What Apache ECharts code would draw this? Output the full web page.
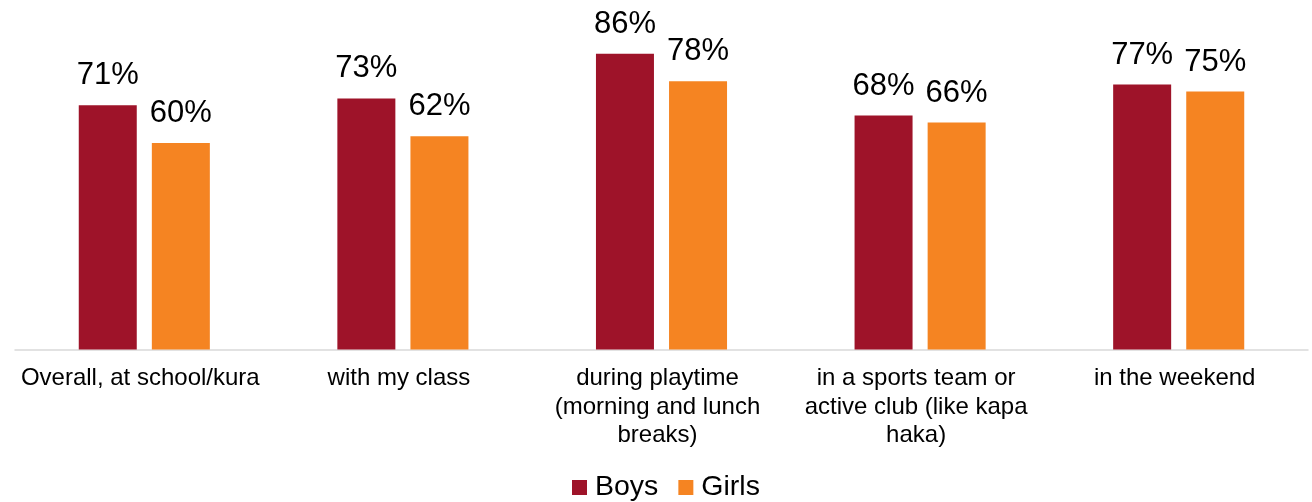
<!DOCTYPE html>
<html>
<head>
<meta charset="utf-8">
<script src="https://cdn.jsdelivr.net/npm/echarts@6/dist/echarts.min.js"></script>
<style>
  html, body { margin: 0; padding: 0; background: #ffffff; }
  #chart { width: 1312px; height: 502px; }
</style>
</head>
<body>
<div id="chart"></div>
<script>
// Share of children who are active, by setting
const categories = [
  'Overall, at school/kura',
  'with my class',
  'during playtime\n(morning and lunch\nbreaks)',
  'in a sports team or\nactive club (like kapa\nhaka)',
  'in the weekend'
];
const boys = [71, 73, 86, 68, 77];
const girls = [60, 62, 78, 66, 75];
const seriesNames = ['Boys', 'Girls'];

const FONT = '"Liberation Sans", Arial, sans-serif';

const valueLabel = {
  show: true,
  position: 'top',
  distance: 14,
  formatter: p => p.value + '%',
  fontFamily: FONT,
  fontSize: 31,
  color: '#000000'
};

const chart = echarts.init(document.getElementById('chart'), null, { renderer: 'canvas' });
chart.setOption({
  animation: false,
  backgroundColor: '#ffffff',
  grid: { left: 15, right: 4, top: 5.5, bottom: 152.5, containLabel: false },
  legend: {
    data: seriesNames,
    top: 468,
    left: 567,
    itemWidth: 15,
    itemHeight: 15,
    itemGap: 20,
    icon: 'rect',
    textStyle: { fontFamily: FONT, fontSize: 28.5, color: '#000000', padding: [0, 0, 0, 3] }
  },
  xAxis: {
    type: 'category',
    data: categories,
    axisLine: { show: true, lineStyle: { color: '#d9d9d9', width: 1.5 } },
    axisTick: { show: false },
    axisLabel: {
      interval: 0,
      margin: 15,
      fontFamily: FONT,
      fontSize: 24,
      lineHeight: 28.5,
      color: '#000000',
      align: 'center',
      padding: [0, 8, 0, 0]
    }
  },
  yAxis: {
    type: 'value',
    min: 0,
    max: 100,
    show: false,
    splitLine: { show: false }
  },
  series: [
    {
      name: seriesNames[0],
      type: 'bar',
      data: boys,
      barWidth: 58,
      barGap: '26%',
      itemStyle: { color: '#9e1329' },
      label: valueLabel
    },
    {
      name: seriesNames[1],
      type: 'bar',
      data: girls,
      barWidth: 58,
      barGap: '26%',
      itemStyle: { color: '#f58422' },
      label: valueLabel
    }
  ]
});
</script>
</body>
</html>
